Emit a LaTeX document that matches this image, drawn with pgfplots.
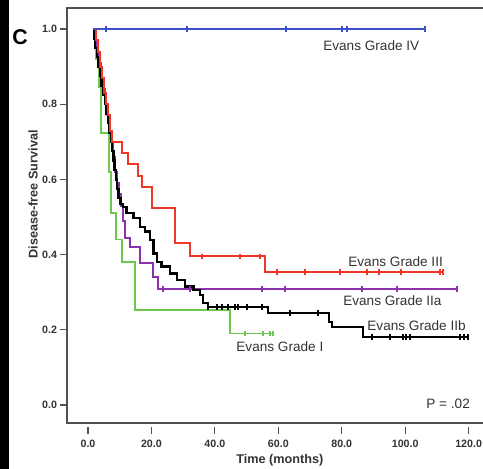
\documentclass[border=0pt]{standalone}
\usepackage{pgfplots}
\pgfplotsset{compat=1.18}
\usepackage{fontspec}
\setmainfont{Liberation Sans}
\definecolor{cblue}{RGB}{60,80,200}
\definecolor{cred}{RGB}{240,55,40}
\definecolor{cpurple}{RGB}{140,50,170}
\definecolor{cgreen}{RGB}{110,200,80}
\definecolor{axgray}{RGB}{80,80,80}
\begin{document}
\begin{tikzpicture}
\begin{axis}[
  x=2.379pt, y=282pt,
  xmin=-6.6, xmax=130, ymin=-0.048, ymax=1.056,
  axis line style={draw=axgray, line width=1pt},
  xtick={0,20,40,60,80,100,120},
  xticklabels={0.0,20.0,40.0,60.0,80.0,100.0,120.0},
  ytick={0,0.2,0.4,0.6,0.8,1.0},
  yticklabels={0.0,0.2,0.4,0.6,0.8,1.0},
  tick align=outside, tick pos=left,
  major tick length=5pt,
  every tick/.style={draw=axgray, line width=0.9pt},
  xtick style={yshift=-3pt},
  xticklabel style={yshift=-4.5pt},
  yticklabel style={xshift=1pt},
  /pgf/number format/assume math mode=true,
  ticklabel style={font=\bfseries\fontsize{8}{9}\selectfont, text=black!80},
  clip=false,
]
% Evans Grade I
\addplot[const plot, color=cgreen, line width=1.3pt] coordinates {
(1.58,1)(2.5,0.92)(3.5,0.846)(4.0,0.723)(6.7,0.62)(7.2,0.51)(8.8,0.44)(10.7,0.38)(14.8,0.253)(44.8,0.19)(58.3,0.19)};
\addplot[only marks, mark=|, mark size=2.2pt, color=cgreen, mark options={line width=1pt}] coordinates {
(49.5,0.19)(55.2,0.19)(57.4,0.19)(58.3,0.19)};
% Evans Grade IIa
\addplot[const plot, color=cpurple, line width=1.5pt] coordinates {
(1.58,1)(2.2,0.97)(2.8,0.94)(3.5,0.91)(4.1,0.87)(4.7,0.84)(5.4,0.80)(6.0,0.77)(6.6,0.73)(7.3,0.70)(7.9,0.66)(8.5,0.62)(9.1,0.59)(9.8,0.56)(10.4,0.53)(11.0,0.49)(11.7,0.445)(13.2,0.42)(16.4,0.378)(20.5,0.34)(22.1,0.308)(116.3,0.308)};
\addplot[only marks, mark=|, mark size=2.2pt, color=cpurple, mark options={line width=1pt}] coordinates {
(23.6,0.308)(32.2,0.308)(54.9,0.308)(62.1,0.308)(86.4,0.308)(97.4,0.308)(116.3,0.308)};
% Evans Grade IIb
\addplot[const plot, color=black, line width=1.8pt] coordinates {
(1.58,1.0)(1.8,0.975)(2.3,0.95)(2.8,0.925)(3.3,0.90)(3.8,0.875)(4.3,0.85)(4.8,0.825)(5.3,0.80)(5.8,0.775)(6.3,0.75)(6.8,0.725)(7.2,0.70)(7.6,0.675)(8.0,0.65)(8.4,0.625)(8.8,0.60)(9.2,0.575)(9.6,0.55)(10.2,0.535)(11.0,0.527)(12.2,0.51)(14.3,0.497)(16.4,0.474)(18.0,0.461)(19.5,0.439)(20.6,0.403)(21.7,0.381)(23.2,0.368)(25.9,0.350)(28.0,0.332)(30.6,0.315)(33.2,0.306)(35.3,0.293)(36.3,0.271)(37.8,0.261)(56.7,0.245)(76.0,0.221)(76.9,0.207)(86.7,0.181)(119.8,0.181)};
\addplot[only marks, mark=|, mark size=2.2pt, color=black, mark options={line width=1.1pt}] coordinates {
(37.8,0.261)(40.7,0.261)(42.2,0.261)(44.1,0.261)(46.3,0.261)(47.3,0.261)(50.1,0.261)(54.9,0.261)
(63.7,0.245)(72.5,0.245)
(89.5,0.181)(95.2,0.181)(99.3,0.181)(100.3,0.181)(101.5,0.181)(117.3,0.181)(118.5,0.181)(119.8,0.181)};
% Evans Grade III
\addplot[const plot, color=cred, line width=1.5pt] coordinates {
(1.58,1)(2.4,0.97)(3.1,0.94)(3.8,0.90)(4.5,0.87)(5.1,0.83)(5.8,0.80)(6.4,0.77)(7.0,0.73)(7.5,0.70)(10.6,0.67)(12.6,0.64)(15.8,0.61)(17.0,0.58)(20.2,0.525)(27.4,0.43)(32.2,0.395)(55.8,0.354)(111.9,0.354)};
\addplot[only marks, mark=|, mark size=2.2pt, color=cred, mark options={line width=1pt}] coordinates {
(35.9,0.395)(47.9,0.395)(54.2,0.395)
(59.6,0.354)(68.4,0.354)(79.4,0.354)(88.0,0.354)(91.7,0.354)(98.7,0.354)(111.0,0.354)(111.9,0.354)};
% Evans Grade IV
\addplot[color=cblue, line width=1.5pt] coordinates {(1.58,1)(106.2,1)};
\addplot[only marks, mark=|, mark size=2.2pt, color=cblue, mark options={line width=1pt}] coordinates {
(5.7,1)(31.2,1)(62.4,1)(80.1,1)(81.7,1)(106.2,1)};
% annotations
\node[anchor=west, font=\fontsize{10.2}{12}\selectfont, text=black!80, inner sep=0pt] at (axis cs:74.1,0.955) {Evans Grade IV};
\node[anchor=west, font=\fontsize{10.2}{12}\selectfont, text=black!80, inner sep=0pt] at (axis cs:82.0,0.380) {Evans Grade III};
\node[anchor=west, font=\fontsize{10.2}{12}\selectfont, text=black!80, inner sep=0pt] at (axis cs:80.4,0.277) {Evans Grade IIa};
\node[anchor=west, font=\fontsize{10.2}{12}\selectfont, text=black!80, inner sep=0pt] at (axis cs:88.0,0.210) {Evans Grade IIb};
\node[anchor=west, font=\fontsize{10.2}{12}\selectfont, text=black!80, inner sep=0pt] at (axis cs:46.7,0.154) {Evans Grade I};
\node[anchor=west, font=\fontsize{10.2}{12}\selectfont, text=black!80, inner sep=0pt] at (axis cs:106.6,0.003) {P = .02};
\node[font=\bfseries\fontsize{9.5}{11}\selectfont, text=black!80] at (axis cs:60.5,-0.146) {Time (months)};
\node[rotate=90, font=\bfseries\fontsize{9.5}{11}\selectfont, text=black!80] at (axis cs:-17.3,0.56) {Disease-free Survival};
\node[font=\bfseries\fontsize{16}{18}\selectfont] at (axis cs:-21.4,0.978) {C};
\coordinate (BL) at (axis cs:-27.74,-0.1702);
\coordinate (TR) at (axis cs:124.53,1.0771);
\coordinate (SL) at (axis cs:-24.9,1.0771);
\end{axis}
\fill[black] (BL) rectangle (SL);
\pgfresetboundingbox
\path[use as bounding box] (BL) rectangle (TR);
\end{tikzpicture}
\end{document}
